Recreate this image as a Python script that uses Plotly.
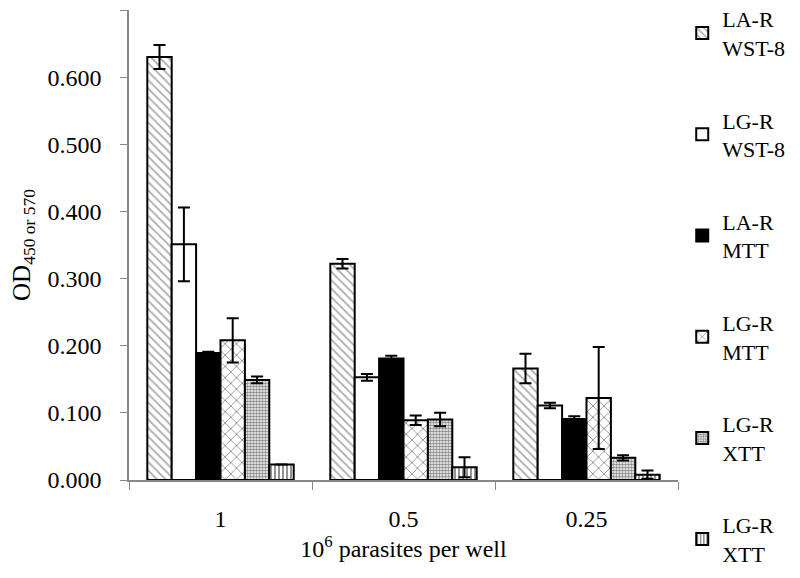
import plotly.graph_objects as go

categories = ["1", "0.5", "0.25"]

series_names = ["LA-R<br>WST-8", "LG-R<br>WST-8", "LA-R<br>MTT", "LG-R<br>MTT", "LG-R<br>XTT", "LG-R<br>XTT"]

la_r_wst8 = [0.630, 0.322, 0.166]
la_r_wst8_err = [0.018, 0.007, 0.022]

lg_r_wst8 = [0.351, 0.153, 0.111]
lg_r_wst8_err = [0.055, 0.005, 0.004]

la_r_mtt = [0.189, 0.181, 0.091]
la_r_mtt_err = [0.002, 0.004, 0.004]

lg_r_mtt = [0.208, 0.089, 0.122]
lg_r_mtt_err = [0.033, 0.007, 0.076]

lg_r_xtt_a = [0.149, 0.090, 0.033]
lg_r_xtt_a_err = [0.005, 0.010, 0.004]

lg_r_xtt_b = [0.023, 0.019, 0.008]
lg_r_xtt_b_err = [0.000, 0.015, 0.006]

y_ticks = [0.0, 0.1, 0.2, 0.3, 0.4, 0.5, 0.6, 0.7]
y_tick_labels = ["0.000", "0.100", "0.200", "0.300", "0.400", "0.500", "0.600", "0.700"]

values = [la_r_wst8, lg_r_wst8, la_r_mtt, lg_r_mtt, lg_r_xtt_a, lg_r_xtt_b]
errors = [la_r_wst8_err, lg_r_wst8_err, la_r_mtt_err, lg_r_mtt_err, lg_r_xtt_a_err, lg_r_xtt_b_err]

styles = [
    dict(color="white", pattern=dict(shape="\\", fgcolor="#555555", bgcolor="white", size=6, solidity=0.3)),
    dict(color="white"),
    dict(color="black"),
    dict(color="white", pattern=dict(shape="x", fgcolor="#111111", bgcolor="white", size=8, solidity=0.2)),
    dict(color="white", pattern=dict(shape=".", fgcolor="#111111", bgcolor="white", size=3, solidity=0.6)),
    dict(color="white", pattern=dict(shape="|", fgcolor="#111111", bgcolor="white", size=4, solidity=0.45)),
]

fig = go.Figure()
for i, (name, vals, errs, st) in enumerate(zip(series_names, values, errors, styles)):
    marker = dict(color=st["color"], line=dict(color="black", width=2))
    if "pattern" in st:
        marker["pattern"] = st["pattern"]
    fig.add_trace(go.Bar(
        x=categories, y=vals, name=name, legendgroup=f"g{i}",
        marker=marker,
        error_y=dict(type="data", array=errs, visible=True, color="black", thickness=2, width=6),
    ))

font_family = "Times New Roman"
fig.update_layout(
    width=800, height=578,
    margin=dict(l=121, r=130, t=2, b=106, autoexpand=False),
    paper_bgcolor="white", plot_bgcolor="white",
    barmode="group", bargap=0.2, bargroupgap=0,
    font=dict(family=font_family, size=22, color="black"),
    showlegend=True,
    legend=dict(
        x=1.0077, xanchor="left", y=1.0255, yanchor="top", yref="paper",
        font=dict(family=font_family, size=22, color="black"),
        tracegroupgap=41, bgcolor="rgba(0,0,0,0)",
        maxheight=640,
    ),
    xaxis=dict(
        showline=True, linecolor="#888888", linewidth=1.5,
        ticks="outside", tickson="boundaries", ticklen=8, tickcolor="#888888",
        showgrid=False, tickfont=dict(family=font_family, size=24),
        ticklabelstandoff=16, automargin=False,
        title=dict(text="10<sup>6</sup> parasites per well", font=dict(family=font_family, size=24), standoff=10),
    ),
    yaxis=dict(
        range=[0, 0.7], tickvals=y_ticks, ticktext=y_tick_labels,
        showline=True, linecolor="#888888", linewidth=1.5,
        ticks="outside", ticklen=7, tickcolor="#888888",
        showgrid=False, zeroline=False, tickfont=dict(family=font_family, size=24),
        ticklabelstandoff=14, automargin=False,
        title=dict(text="OD<sub>450 or 570</sub>", font=dict(family=font_family, size=25), standoff=22),
    ),
)

fig.write_html("out.html")
